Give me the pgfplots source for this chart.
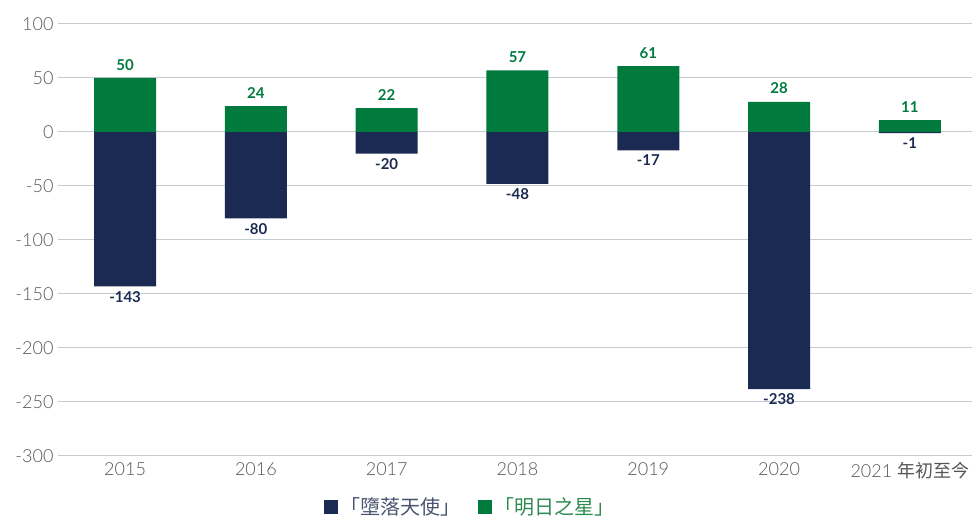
\documentclass[border=0pt]{standalone}
\usepackage{fontspec}
\setmainfont{Lato}
\newfontfamily\lightfont{Lato Light}
\newfontfamily\cjk{Noto Sans CJK TC}
\usepackage{pgfplots}
\pgfplotsset{compat=1.18}
\definecolor{navy}{HTML}{1B2A52}
\definecolor{grn}{HTML}{007A3D}
\definecolor{gridc}{HTML}{C5CBD3}
\definecolor{tickc}{HTML}{555555}
\definecolor{legnavy}{HTML}{4A5470}
\definecolor{leggrn}{HTML}{2E8B50}
\begin{document}
\begin{tikzpicture}
\begin{axis}[
  scale only axis, width=914pt, height=432pt,
  xmin=-0.513, xmax=6.475, ymin=-300, ymax=100,
  ytick={-300,-250,...,100},
  xtick={0,...,6},
  xticklabels={2015,2016,2017,2018,2019,2020,{2021 {\cjk 年初至今}}},
  axis line style={draw=none},
  major tick length=0pt,
  ymajorgrids, grid style={gridc, line width=1pt},
  /pgf/number format/assume math mode=true,
  ticklabel style={font=\lightfont\fontsize{18}{21}\selectfont, text=tickc},
  yticklabel style={xshift=-1pt},
  xticklabel style={yshift=-3pt},
  ybar, bar width=62pt, bar shift=0pt,
  nodes near coords={\pgfmathprintnumber{\pgfplotspointmeta}},
  every node near coord/.append style={font=\bfseries\fontsize{15}{18}\selectfont, inner sep=4.5pt},
  legend style={draw=none, at={(0.451,-0.118)}, anchor=center, legend columns=2,
    font=\fontsize{20}{23}\selectfont, /tikz/every even column/.append style={column sep=16pt}},
  legend image code/.code={\fill[#1,draw=none] (0pt,-7pt) rectangle (14pt,7pt);},
]
\addplot[fill=navy, draw=none, every node near coord/.append style={text=navy}] coordinates {(0,-143) (1,-80) (2,-20) (3,-48) (4,-17) (5,-238) (6,-1)};
\addlegendentry{\textcolor{legnavy}{\cjk 「墮落天使」}}
\addplot[fill=grn, draw=none, every node near coord/.append style={text=grn, yshift=3pt}] coordinates {(0,50) (1,24) (2,22) (3,57) (4,61) (5,28) (6,11)};
\addlegendentry{\textcolor{leggrn}{\cjk 「明日之星」}}
\end{axis}
\pgfresetboundingbox
\path[use as bounding box] (-58pt,-60pt) rectangle (914pt,456pt);
\end{tikzpicture}
\end{document}
